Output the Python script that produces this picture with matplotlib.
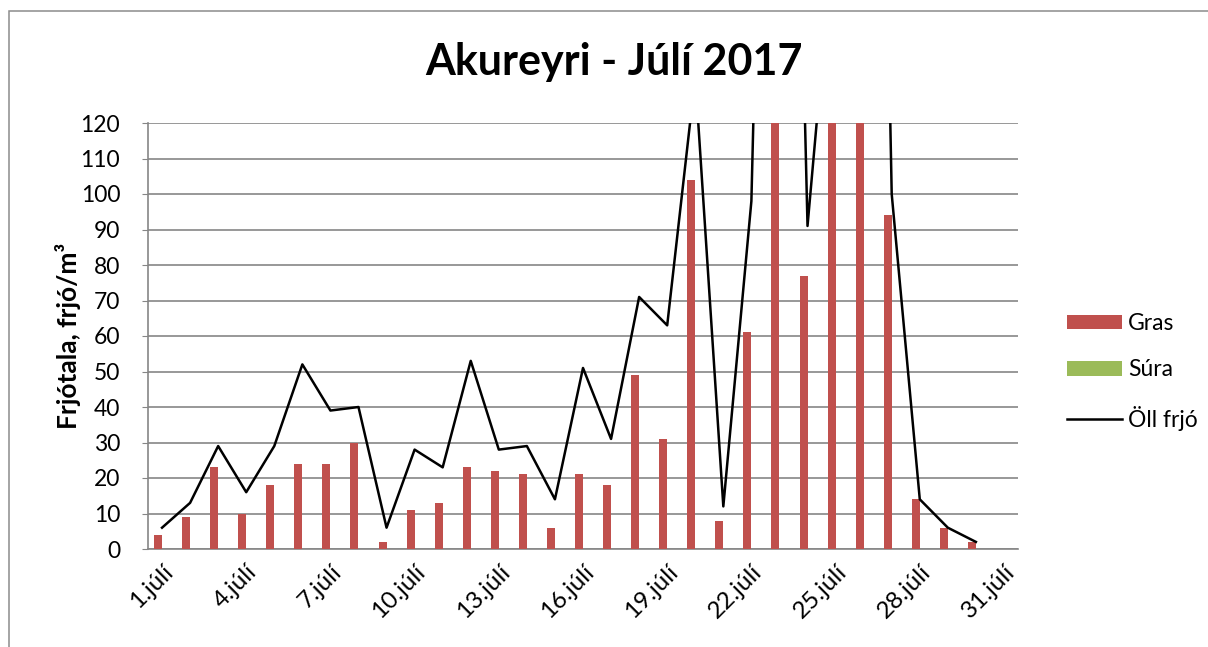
import numpy as np
import matplotlib
matplotlib.use("Agg")
import matplotlib.pyplot as plt
from matplotlib.patches import Rectangle

plt.rcParams['font.family'] = ['Lato', 'DejaVu Sans']

# Data (values above 120 are clipped there, so estimated)
days = [f"{d}.júlí" for d in range(1, 32)]
gras = [4, 9, 23, 10, 18, 24, 24, 30, 2, 11, 13, 23, 22, 21, 6, 21, 18, 49, 31, 104,
        8, 61, 350, 77, 160, 420, 94, 14, 6, 2, np.nan]
sura = [0] * 30 + [np.nan]
oll_frjo = [6, 13, 29, 16, 29, 52, 39, 40, 6, 28, 23, 53, 28, 29, 14, 51, 31, 71, 63, 133,
            12, 98, 420, 91, 180, 500, 100, 14, 6, 2, np.nan]

gras_color = '#C0504D'
sura_color = '#9BBB59'
grid_color = '#868686'

fig = plt.figure(figsize=(12.08, 6.47), dpi=100)
ax = fig.add_axes([148 / 1208, 1 - 549 / 647, 870 / 1208, 426 / 647])

x = np.arange(len(days))
w = 0.285
b1 = ax.bar(x - w / 2, gras, width=w, color=gras_color, label='Gras', zorder=3)
b2 = ax.bar(x + w / 2, sura, width=w, color=sura_color, label='Súra', zorder=3)
l1, = ax.plot(x, oll_frjo, color='black', lw=1.8, label='Öll frjó', zorder=4)

ax.set_xlim(-0.5, len(days) - 0.5)
ax.set_ylim(0, 120)
ax.set_yticks(np.arange(0, 121, 10))
ax.yaxis.grid(True, color=grid_color, lw=1.2, zorder=0)
ax.set_axisbelow(True)

ax.set_xticks(x[::3])
ax.set_xticklabels(days[::3], rotation=45, ha='right', rotation_mode='anchor', fontsize=17.5)
ax.tick_params(axis='x', length=0, pad=9)
ax.tick_params(axis='y', labelsize=16.5, length=4, color=grid_color, pad=16)

for s in ['top', 'right']:
    ax.spines[s].set_visible(False)
for s in ['left', 'bottom']:
    ax.spines[s].set_color(grid_color)
    ax.spines[s].set_linewidth(1.2)

ax.set_ylabel('Frjótala, frjó/m³', fontsize=19, fontweight='bold', labelpad=0)

fig.text(614 / 1208, 1 - 62 / 647, 'Akureyri - Júlí 2017', fontsize=31, fontweight='bold',
         ha='center', va='center')

ax.legend(handles=[b1, b2, l1], loc='center left',
          bbox_to_anchor=(1067 / 1208, 1 - 372 / 647), bbox_transform=fig.transFigure,
          frameon=False, fontsize=16.5, borderpad=0, borderaxespad=0,
          handlelength=2.4, handleheight=0.6, labelspacing=1.1, handletextpad=0.25)

# outer chart border (right and bottom edges fall outside the image)
fig.patches.append(Rectangle((8.5 / 1208, -0.1), 1.2, 1.1 - 10.5 / 647, transform=fig.transFigure,
                             fill=False, edgecolor='#8c8c8c', lw=1.1))

fig.savefig('out.png', dpi=100)
